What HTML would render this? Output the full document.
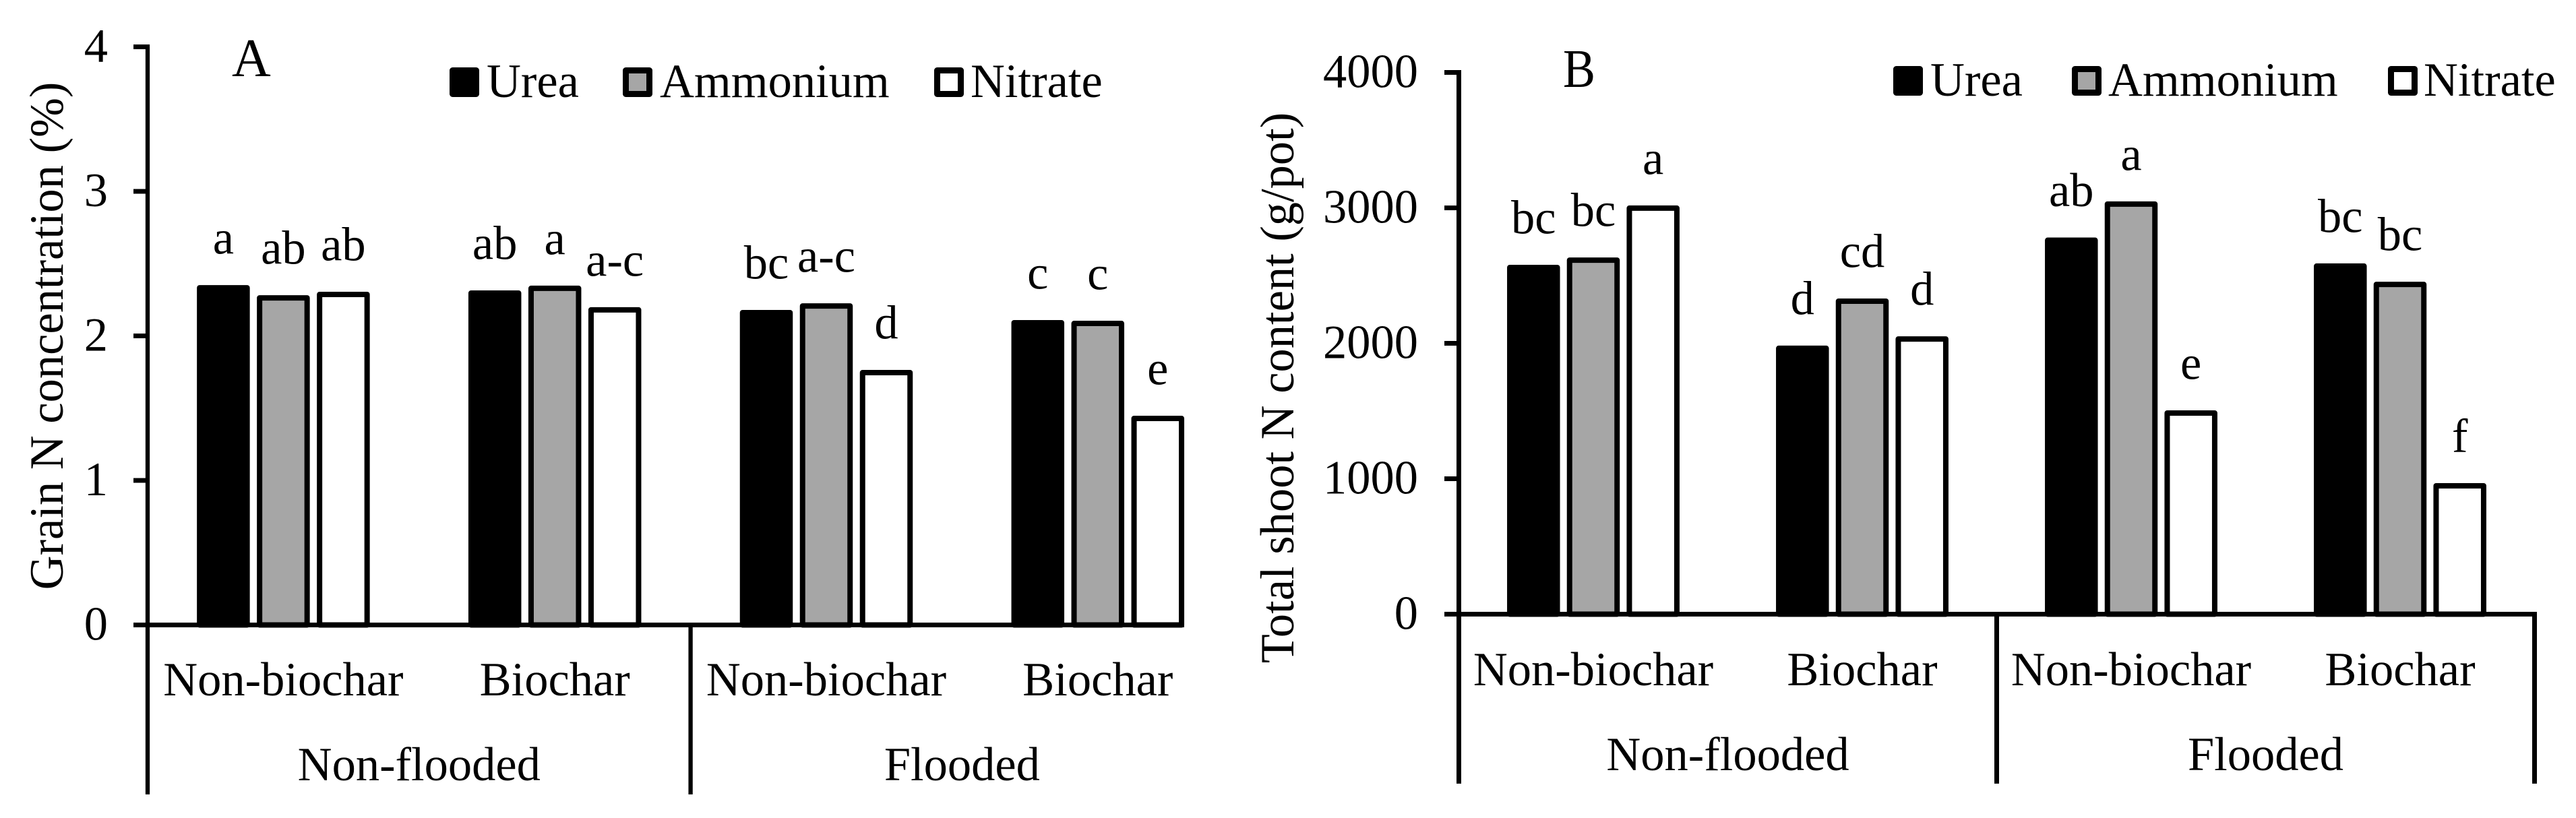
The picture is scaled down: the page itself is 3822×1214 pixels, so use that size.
<!DOCTYPE html>
<html lang="en">
<head>
<meta charset="utf-8">
<title>Grain N concentration and total shoot N content</title>
<style>
html,body{margin:0;padding:0;background:#fff;}
svg{display:block;}
text{font-family:"Liberation Serif","Times New Roman",serif;fill:#000;font-size:70.5px;}
</style>
</head>
<body>
<svg id="figure" xmlns="http://www.w3.org/2000/svg" width="3822" height="1214" viewBox="0 0 3822 1214">
<rect x="0" y="0" width="3822" height="1214" fill="#fff"/>
</svg>
<script>
// ---- data ----
const treatments = ['Non-biochar', 'Biochar', 'Non-biochar', 'Biochar'];
const floodGroups = ['Non-flooded', 'Flooded'];
const seriesNames = ['Urea', 'Ammonium', 'Nitrate'];

const ticksA = [0, 1, 2, 3, 4];
const ureaA = [2.333, 2.296, 2.161, 2.091];
const ammoniumA = [2.263, 2.329, 2.207, 2.086];
const nitrateA = [2.287, 2.18, 1.746, 1.429];
const ureaLettersA = ['a', 'ab', 'bc', 'c'];
const ammoniumLettersA = ['ab', 'a', 'a-c', 'c'];
const nitrateLettersA = ['ab', 'a-c', 'd', 'e'];

const ticksB = [0, 1000, 2000, 3000, 4000];
const ureaB = [2560, 1963, 2761, 2570];
const ammoniumB = [2614, 2311, 3028, 2435];
const nitrateB = [2998, 2032, 1485, 948];
const ureaLettersB = ['bc', 'd', 'ab', 'bc'];
const ammoniumLettersB = ['bc', 'cd', 'a', 'bc'];
const nitrateLettersB = ['a', 'd', 'e', 'f'];

// ---- helpers ----
const svg = document.getElementById('figure');
const NS = 'http://www.w3.org/2000/svg';
const seriesFill = ['#000000', '#a6a6a6', '#ffffff'];
const seriesSlug = ['urea', 'ammonium', 'nitrate'];

function make(tag, attrs, parent, content) {
  const el = document.createElementNS(NS, tag);
  for (const k in attrs) el.setAttribute(k, attrs[k]);
  if (content !== undefined) el.textContent = content;
  parent.appendChild(el);
  return el;
}

function drawPanel(p) {
  const g = make('g', {}, svg);
  
  

  const yScale = v => p.y0 - (v / p.max) * (p.y0 - p.yTop);
  const bandLeft = i => p.axisX + i * p.band;
  const bandCentre = i => p.axisX + (i + 0.5) * p.band;

  // y axis line (runs down past the baseline as the category separator)
  const yAxis = make('line', {x1: p.axisX, x2: p.axisX, y1: p.yTop - 3.5, y2: p.axisBottom, stroke: '#000', 'stroke-width': p.yAxisWidth}, g);
  
  

  // y ticks and labels
  p.ticks.forEach(t => {
    const y = yScale(t);
    const tick = make('line', {x1: p.tickLeft, x2: p.axisX, y1: y, y2: y, stroke: '#000', 'stroke-width': 7}, g);
    
    
    const label = make('text', {x: p.tickLabelRight, y: y + 22, 'text-anchor': 'end'}, g, String(t));
    
    
  });

  // x axis line
  const xAxis = make('line', {x1: p.tickLeft, x2: p.xAxisEnd, y1: p.y0, y2: p.y0, stroke: '#000', 'stroke-width': 7}, g);
  
  

  // separator between flood groups
  const midX = bandLeft(treatments.length / 2);
  const divider = make('line', {x1: midX, x2: midX, y1: p.y0, y2: p.axisBottom, stroke: '#000', 'stroke-width': p.yAxisWidth}, g);
  
  

  if (p.rightEdge) {
    const right = make('line', {x1: bandLeft(treatments.length), x2: bandLeft(treatments.length), y1: p.y0 - 3.5, y2: p.axisBottom, stroke: '#000', 'stroke-width': p.yAxisWidth}, g);
    
    
  }

  // bars + significance letters
  p.series.forEach((values, s) => {
    values.forEach((v, i) => {
      const cx = bandCentre(i) + (s - 1) * p.barStep;
      const top = yScale(v);
      const bar = make('rect', {
        x: cx - 35.25, y: top, width: 70.5, height: p.y0 - top,
        fill: seriesFill[s], stroke: '#000', 'stroke-width': 8, 'stroke-linejoin': 'round'
      }, g);
      
      
      const letter = make('text', {x: cx, y: top - 4 - p.letterGap, 'text-anchor': 'middle'}, g, p.letters[s][i]);
      
      
    });
  });

  // category labels
  treatments.forEach((name, i) => {
    const label = make('text', {x: bandCentre(i), y: p.catBaseline, 'text-anchor': 'middle'}, g, name);
    
    
  });
  floodGroups.forEach((name, i) => {
    const label = make('text', {x: bandLeft(i * 2 + 1), y: p.groupBaseline, 'text-anchor': 'middle'}, g, name);
    
    
  });

  // y-axis title
  const title = make('text', {
    x: 0, y: 0, 'text-anchor': 'middle',
    transform: 'translate(' + p.titleX + ' ' + p.titleY + ') rotate(-90)'
  }, g, p.title);
  
  

  // panel letter
  const panelLetter = make('text', {
    x: 0, y: 0, style: 'font-size:80px',
    transform: 'translate(' + p.letterX + ' ' + p.letterY + ') scale(' + p.letterSx + ' 1)'
  }, g, p.id);
  
  

  // legend
  seriesNames.forEach((name, s) => {
    const entry = make('g', {}, g);
    
    
    const swatch = make('rect', {
      x: p.legendSwatchX[s] + 4.5, y: p.legendY + 4.5, width: 35, height: 35,
      fill: seriesFill[s], stroke: '#000', 'stroke-width': 9, 'stroke-linejoin': 'round'
    }, entry);
    
    
    const text = make('text', {x: p.legendTextX[s], y: p.legendY + 44}, entry, name);
    
    
  });
}

drawPanel({
  id: 'A', title: 'Grain N concentration (%)',
  ticks: ticksA, max: 4,
  series: [ureaA, ammoniumA, nitrateA],
  letters: [ureaLettersA, ammoniumLettersA, nitrateLettersA],
  axisX: 219, band: 402.8, barStep: 89, y0: 927.5, yTop: 69.5,
  tickLeft: 198, tickLabelRight: 160, xAxisEnd: 1757, axisBottom: 1179, yAxisWidth: 6.3,
  rightEdge: false, letterGap: 46.5,
  catBaseline: 1032, groupBaseline: 1158,
  titleX: 93, titleY: 498.5,
  letterX: 344, letterY: 113, letterSx: 1,
  legendY: 100, legendSwatchX: [667, 924, 1386], legendTextX: [722, 979, 1440]
});

drawPanel({
  id: 'B', title: 'Total shoot N content (g/pot)',
  ticks: ticksB, max: 4000,
  series: [ureaB, ammoniumB, nitrateB],
  letters: [ureaLettersB, ammoniumLettersB, nitrateLettersB],
  axisX: 2164.5, band: 399, barStep: 88.7, y0: 911.5, yTop: 107.5,
  tickLeft: 2143, tickLabelRight: 2104, xAxisEnd: 3764, axisBottom: 1163, yAxisWidth: 7,
  rightEdge: true, letterGap: 46.5,
  catBaseline: 1017, groupBaseline: 1143,
  titleX: 1919, titleY: 575.5,
  letterX: 2319, letterY: 129, letterSx: 0.9,
  legendY: 98, legendSwatchX: [2809, 3074, 3543], legendTextX: [2864, 3128, 3596]
});
</script>
</body>
</html>
